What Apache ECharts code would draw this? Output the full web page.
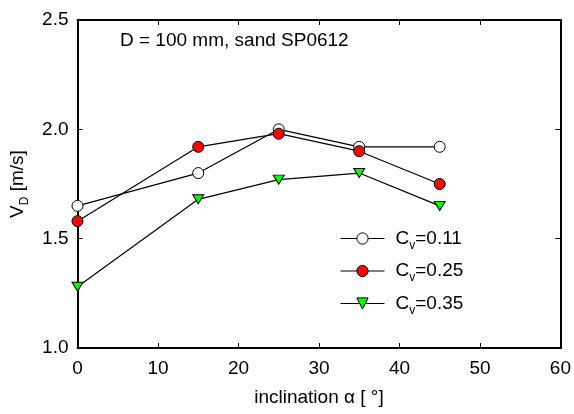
<!DOCTYPE html>
<html>
<head>
<meta charset="utf-8">
<script src="https://cdn.jsdelivr.net/npm/echarts@6/dist/echarts.min.js"></script>
<style>
html,body{margin:0;padding:0;background:#fff;}
#c{width:574px;height:414px;}
</style>
</head>
<body>
<div id="c"></div>
<script>
// Data
const inclination = [0, 15, 25, 35, 45];
const cv011 = [1.65, 1.80, 2.00, 1.92, 1.92];
const cv025 = [1.58, 1.92, 1.98, 1.90, 1.75];
const cv035 = [1.28, 1.68, 1.77, 1.80, 1.65];
const seriesNames = ['C_v=0.11', 'C_v=0.25', 'C_v=0.35'];
const legendLabels = ['=0.11', '=0.25', '=0.35'];
const xMin = 0, xMax = 60, xStep = 10;
const yMin = 1.0, yMax = 2.5, yStep = 0.5;
const titleText = 'D = 100 mm, sand SP0612';

const FONT = '"Liberation Sans", Arial, sans-serif';
const chart = echarts.init(document.getElementById('c'), null, {renderer: 'canvas'});

function pairs(vals) { return inclination.map((x, i) => [x, vals[i]]); }

const richMain = {
  a: {fontFamily: FONT, fontSize: 19, color: '#000', lineHeight: 26},
  b: {fontFamily: FONT, fontSize: 12, color: '#000', lineHeight: 8, verticalAlign: 'bottom'},
  s: {fontFamily: FONT, fontSize: 19, lineHeight: 26, width: 6}
};

const axisCommon = {
  axisLine: {show: true, onZero: false, lineStyle: {color: '#000', width: 2}},
  axisTick: {show: true, inside: true, length: 5, lineStyle: {color: '#000', width: 1}},
  splitLine: {show: false}
};

const option = {
  animation: false,
  backgroundColor: '#fff',
  grid: {left: 77, right: 12, top: 20, bottom: 66, containLabel: false},
  graphic: [{
    type: 'text', left: 120, top: 31,
    style: {text: titleText, font: '19px ' + FONT, fill: '#000'}
  }],
  legend: {
    orient: 'vertical', left: 340, top: 229, padding: 0,
    itemWidth: 44, itemHeight: 14, itemGap: 10,
    data: seriesNames,
    lineStyle: {width: 1},
    itemStyle: {borderWidth: 1},
    formatter: function (name) {
      const i = seriesNames.indexOf(name);
      return '{s|}{a|C}{b|v}{a|' + legendLabels[i] + '}';
    },
    textStyle: {rich: richMain}
  },
  xAxis: [
    Object.assign({
      type: 'value', position: 'bottom', min: xMin, max: xMax, interval: xStep,
      name: 'inclination α [ °]', nameLocation: 'middle', nameGap: 40,
      nameTextStyle: {fontFamily: FONT, fontSize: 19, color: '#000'},
      axisLabel: {fontFamily: FONT, fontSize: 19, color: '#000', margin: 11}
    }, axisCommon),
    Object.assign({
      type: 'value', position: 'top', min: xMin, max: xMax, interval: xStep,
      axisLabel: {show: false}
    }, axisCommon)
  ],
  yAxis: [
    Object.assign({
      type: 'value', position: 'left', min: yMin, max: yMax, interval: yStep,
      name: '{a|V}{b|D}{a| [m/s]}', nameLocation: 'middle', nameGap: 47,
      nameTextStyle: {rich: richMain},
      axisLabel: {fontFamily: FONT, fontSize: 19, color: '#000', margin: 9,
        formatter: v => v.toFixed(1)}
    }, axisCommon),
    Object.assign({
      type: 'value', position: 'right', min: yMin, max: yMax, interval: yStep,
      axisLabel: {show: false}
    }, axisCommon)
  ],
  series: [
    {
      name: seriesNames[0], type: 'line', data: pairs(cv011),
      symbol: 'circle', symbolSize: 11,
      lineStyle: {color: '#000', width: 1.2},
      itemStyle: {color: '#fff', borderColor: '#000', borderWidth: 1}
    },
    {
      name: seriesNames[1], type: 'line', data: pairs(cv025),
      symbol: 'circle', symbolSize: 11,
      lineStyle: {color: '#000', width: 1.2},
      itemStyle: {color: '#ff0000', borderColor: '#000', borderWidth: 1}
    },
    {
      name: seriesNames[2], type: 'line', data: pairs(cv035),
      symbol: 'path://M0,0L10,0L5,8Z', symbolSize: [11, 9],
      lineStyle: {color: '#000', width: 1.2},
      itemStyle: {color: '#00ff00', borderColor: '#000', borderWidth: 1}
    }
  ]
};
chart.setOption(option);
</script>
</body>
</html>
